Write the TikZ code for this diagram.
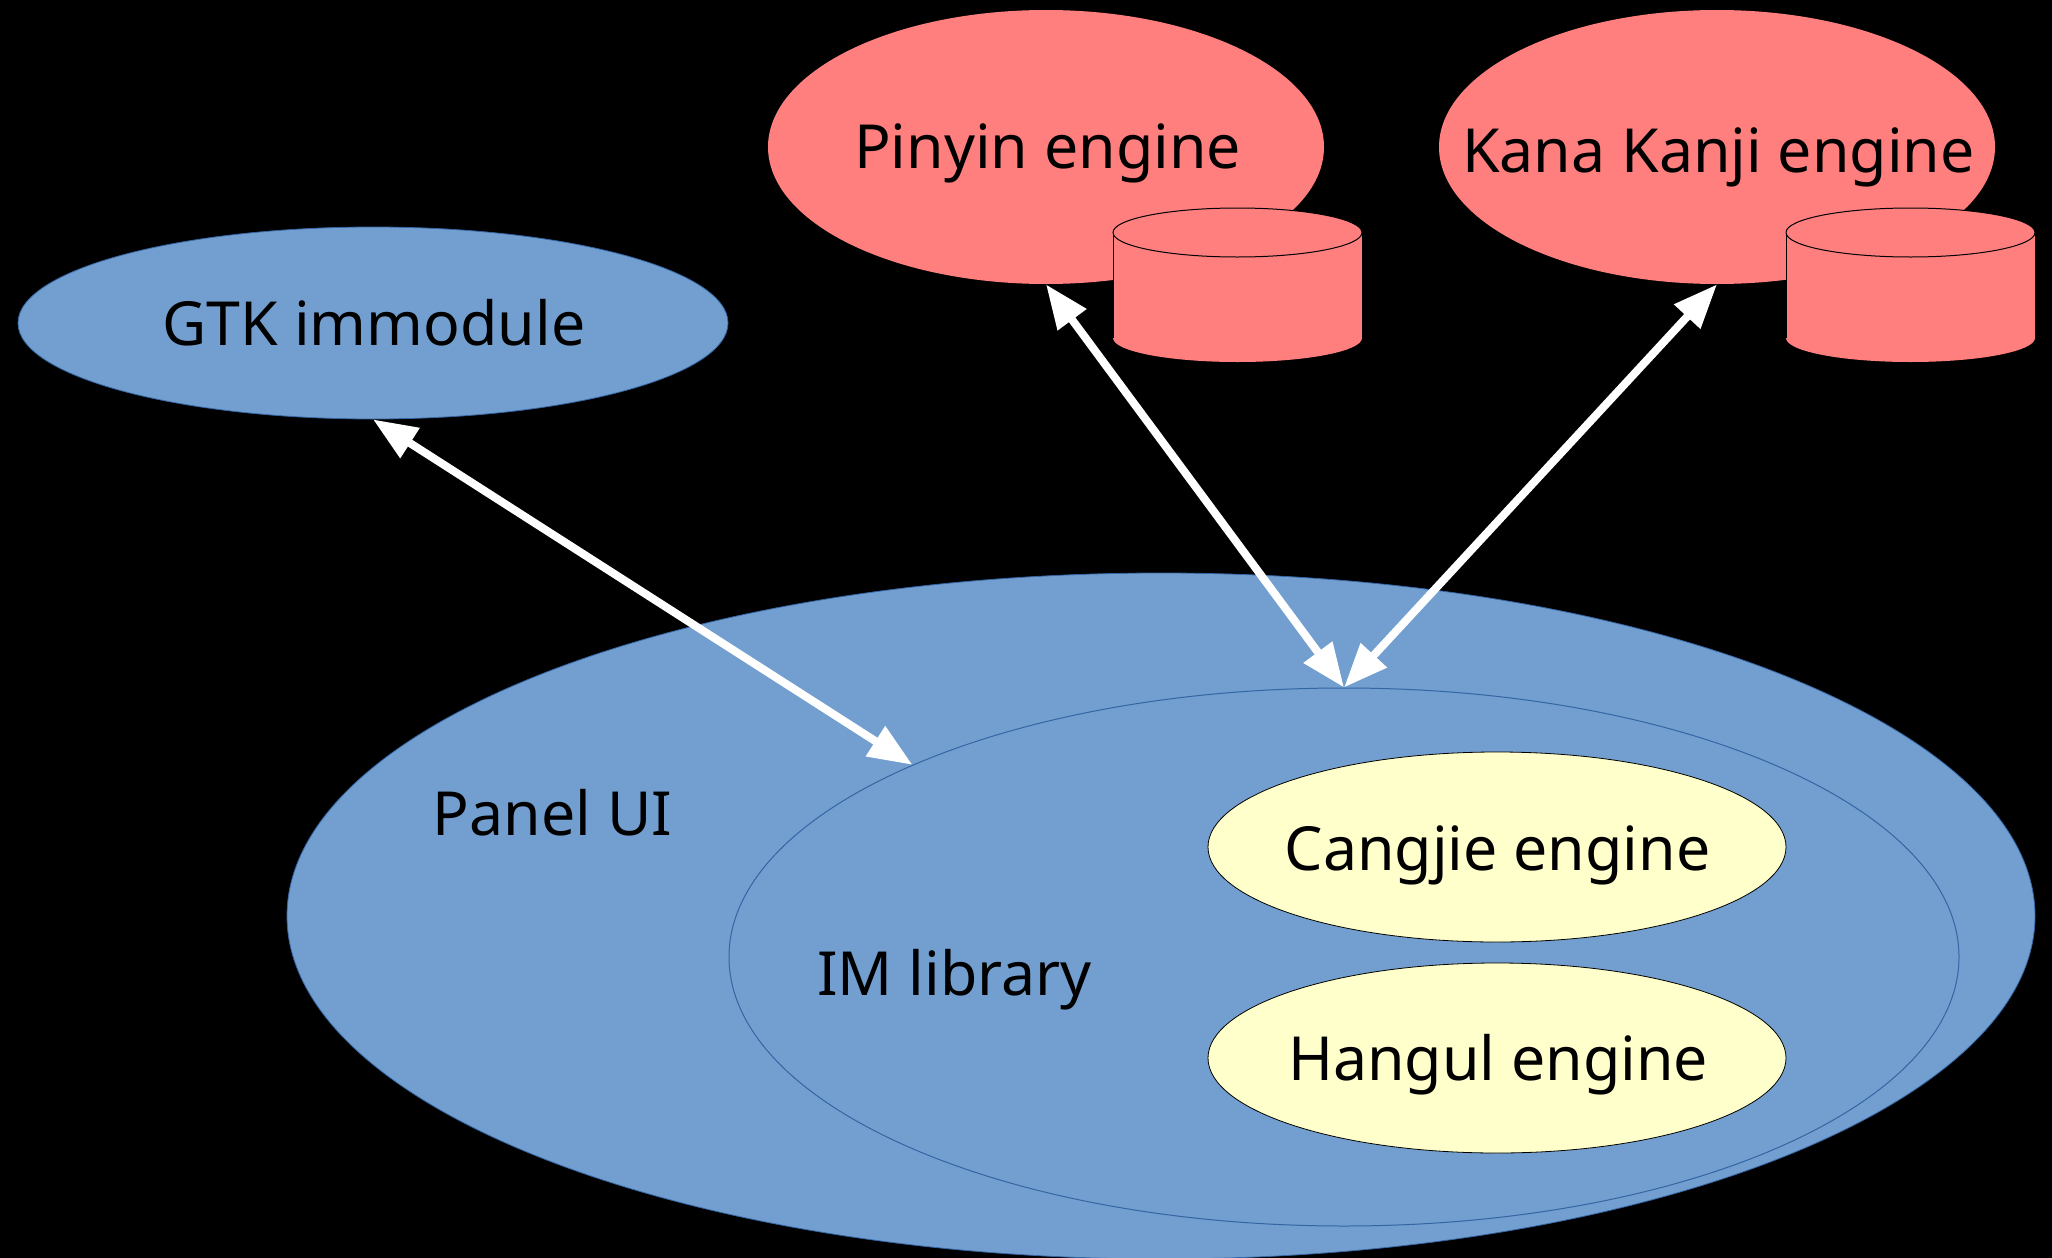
\documentclass[tikz,border=0pt]{standalone}
\usepackage{fontspec}
\setmainfont{Noto Sans}
\usetikzlibrary{arrows.meta,shapes.geometric}
\definecolor{skyblue}{HTML}{729FCF}
\definecolor{skyedge}{HTML}{3465A4}
\definecolor{pinkfill}{HTML}{FF7F7F}
\definecolor{paleyellow}{HTML}{FFFFCC}
\tikzset{
  blueell/.style={ellipse, fill=skyblue, draw=skyedge, line width=0.4pt, inner sep=0pt},
  pinkell/.style={ellipse, fill=pinkfill, inner sep=0pt},
  yellell/.style={ellipse, fill=paleyellow, draw=black, line width=0.4pt, inner sep=0pt},
  lbl/.style={inner sep=0pt, anchor=base, font=\fontsize{30.4pt}{36pt}\selectfont, text=black},
  link/.style={white, line width=4pt, {Triangle[length=22pt,width=17pt]}-{Triangle[length=22pt,width=17pt]}},
  cylfill/.style={fill=pinkfill},
  cyledge/.style={draw=black, line width=0.5pt}
}
\newcommand{\dbcyl}[1]{%
  \fill[cylfill] (#1-124.5,232.5) -- (#1-124.5,338) arc[start angle=180,end angle=0,x radius=124.5,y radius=24]
     -- (#1+124.5,232.5) -- cycle;
  \filldraw[cylfill,cyledge] (#1,232.5) ellipse[x radius=124.5, y radius=24.5];
  \draw[cyledge] (#1-124.5,232.5) -- (#1-124.5,338);
  \draw[cyledge] (#1+124.5,232.5) -- (#1+124.5,338);
}
\begin{document}
\begin{tikzpicture}[x=0.5pt,y=-0.5pt]
\fill[black] (0,0) rectangle (2052,1258);
\useasboundingbox (0,0) rectangle (2052,1258);

% Panel UI
\node[blueell, minimum width=874pt, minimum height=343pt] (panel) at (1161,916) {};
\node[lbl] (panellbl) at (552.5,835.7) {Panel UI};
% IM library
\node[ellipse, draw=skyedge, line width=0.5pt, inner sep=0pt, minimum width=615pt, minimum height=269pt] (im) at (1344,957) {};
\node[lbl] (imlbl) at (954.5,995) {IM library};
% engines inside
\node[yellell, minimum width=289pt, minimum height=95pt] (cj) at (1497,847) {};
\node[lbl] (cjlbl) at (1497.5,870) {Cangjie engine};
\node[yellell, minimum width=289pt, minimum height=95pt] (hg) at (1497,1058) {};
\node[lbl] (hglbl) at (1498,1080) {Hangul engine};

% GTK immodule
\node[blueell, minimum width=355pt, minimum height=96pt] (gtk) at (373,323) {};
\node[lbl] (gtklbl) at (374,345.7) {GTK immodule};

% Pinyin
\node[pinkell, minimum width=278pt, minimum height=137pt] (py) at (1046,147) {};
\node[lbl] (pylbl) at (1047.5,168.3) {Pinyin engine};
\dbcyl{1237.5}
% Kana Kanji
\node[pinkell, minimum width=278pt, minimum height=137pt] (kk) at (1717,147) {};
\node[lbl] (kklbl) at (1718.5,172) {Kana Kanji engine};
\dbcyl{1910.5}

% connectors
\draw[link] (gtk.south) -- (im.156);
\draw[link] (py.south) -- (im.north);
\draw[link] (kk.south) -- (im.north);
\end{tikzpicture}
\end{document}
